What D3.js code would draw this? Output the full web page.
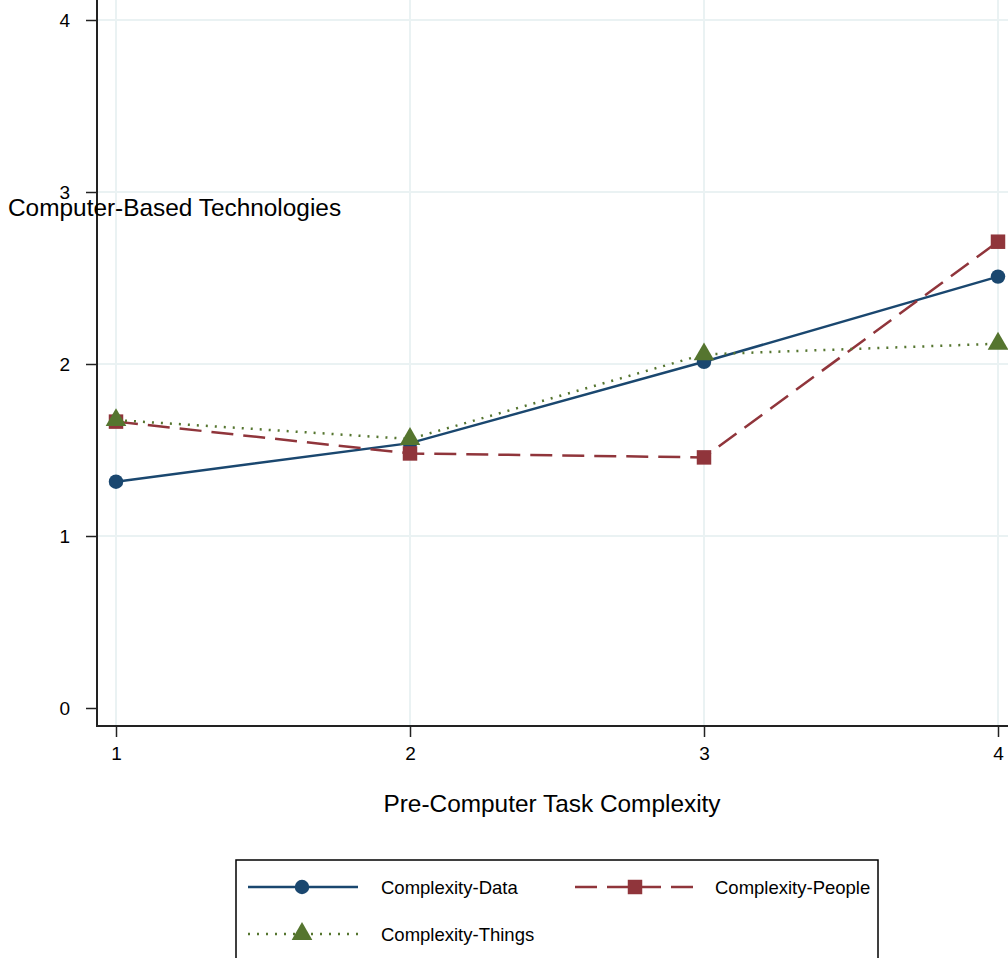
<!DOCTYPE html>
<html>
<head>
<meta charset="utf-8">
<script src="https://cdn.jsdelivr.net/npm/d3@7"></script>
<style>
  body { margin: 0; background: #fff; }
  text { font-family: "Liberation Sans", Arial, sans-serif; fill: #000; }
</style>
</head>
<body>
<div id="chart"></div>
<script>
var w = 1008, h = 958;

var xValues = [1, 2, 3, 4];
var yTicks = [0, 1, 2, 3, 4];
var seriesNames = ["Complexity-Data", "Complexity-People", "Complexity-Things"];
var dataValues = [1.316, 1.54, 2.013, 2.508];
var peopleValues = [1.665, 1.48, 1.457, 2.711];
var thingsValues = [1.674, 1.564, 2.056, 2.118];

var svg = d3.select("#chart").append("svg")
    .attr("width", w)
    .attr("height", h);

var x = d3.scaleLinear().domain([1, 4]).range([116, 998]);
var y = d3.scaleLinear().domain([0, 4]).range([708, 20]);

// grid
svg.append("g").selectAll("line.gx")
    .data(xValues).enter().append("line")
    .attr("x1", d => x(d)).attr("x2", d => x(d))
    .attr("y1", 0).attr("y2", 726)
    .attr("stroke", "#eaf2f3").attr("stroke-width", 2);
svg.append("g").selectAll("line.gy")
    .data(yTicks.slice(1)).enter().append("line")
    .attr("x1", 97).attr("x2", w)
    .attr("y1", d => y(d)).attr("y2", d => y(d))
    .attr("stroke", "#eaf2f3").attr("stroke-width", 2);

// axes
var yAxis = svg.append("g")
    .attr("transform", "translate(97,0)")
    .call(d3.axisLeft(y).tickValues(yTicks).tickFormat(d3.format("d")).tickSize(11).tickPadding(16).tickSizeOuter(0));
yAxis.select(".domain").remove();
yAxis.append("line").attr("x1", 0).attr("x2", 0).attr("y1", 0).attr("y2", 727)
    .attr("stroke", "#222").attr("stroke-width", 2);
yAxis.selectAll(".tick line").attr("stroke", "#222").attr("stroke-width", 1.5);
yAxis.selectAll(".tick text").style("font-size", "19px");

var xAxis = svg.append("g")
    .attr("transform", "translate(0,726)")
    .call(d3.axisBottom(x).tickValues(xValues).tickFormat(d3.format("d")).tickSize(11).tickPadding(10).tickSizeOuter(0));
xAxis.select(".domain").remove();
xAxis.append("line").attr("x1", 96).attr("x2", w).attr("y1", 0).attr("y2", 0)
    .attr("stroke", "#222").attr("stroke-width", 2);
xAxis.selectAll(".tick line").attr("stroke", "#222").attr("stroke-width", 1.5);
xAxis.selectAll(".tick text").style("font-size", "19px");

// titles
svg.append("text").attr("x", 8).attr("y", 216)
    .style("font-size", "24.4px").text("Computer-Based Technologies");
svg.append("text").attr("x", 552).attr("y", 812).attr("text-anchor", "middle")
    .style("font-size", "24.4px").text("Pre-Computer Task Complexity");

var series = [
    { name: seriesNames[0], values: dataValues, color: "#1a476f", dash: null, shape: d3.symbolCircle, size: 165 },
    { name: seriesNames[1], values: peopleValues, color: "#90353b", dash: "22,10", shape: d3.symbolSquare, size: 210 },
    { name: seriesNames[2], values: thingsValues, color: "#55752f", dash: "2,7", shape: d3.symbolTriangle, size: 185 }
];

var line = d3.line().x((d, i) => x(xValues[i])).y(d => y(d));

series.forEach(function (s) {
    svg.append("path")
        .attr("d", line(s.values))
        .attr("fill", "none")
        .attr("stroke", s.color)
        .attr("stroke-width", 2.5)
        .attr("stroke-dasharray", s.dash);
});
series.forEach(function (s) {
    svg.append("g").selectAll("path")
        .data(s.values).enter().append("path")
        .attr("d", d3.symbol().type(s.shape).size(s.size))
        .attr("transform", (d, i) => `translate(${x(xValues[i])},${y(d)})`)
        .attr("fill", s.color);
});

// legend
var legend = svg.append("g");
legend.append("rect").attr("x", 236).attr("y", 860).attr("width", 642).attr("height", 110)
    .attr("fill", "#fff").attr("stroke", "#000").attr("stroke-width", 1.5);
var legendPos = [[248, 887], [575, 887], [248, 934]];
series.forEach(function (s, i) {
    var p = legendPos[i];
    var g = legend.append("g").attr("transform", `translate(${p[0]},${p[1]})`);
    g.append("line").attr("x1", 0).attr("x2", i === 1 ? 122 : 110).attr("y1", 0).attr("y2", 0)
        .attr("stroke", s.color).attr("stroke-width", 2.5).attr("stroke-dasharray", s.dash);
    g.append("path").attr("d", d3.symbol().type(s.shape).size(s.size))
        .attr("transform", `translate(${i === 1 ? 60 : 54},0)`).attr("fill", s.color);
    g.append("text").attr("x", i === 1 ? 140 : 133).attr("y", 7)
        .style("font-size", "18.5px").text(s.name);
});
</script>
</body>
</html>
